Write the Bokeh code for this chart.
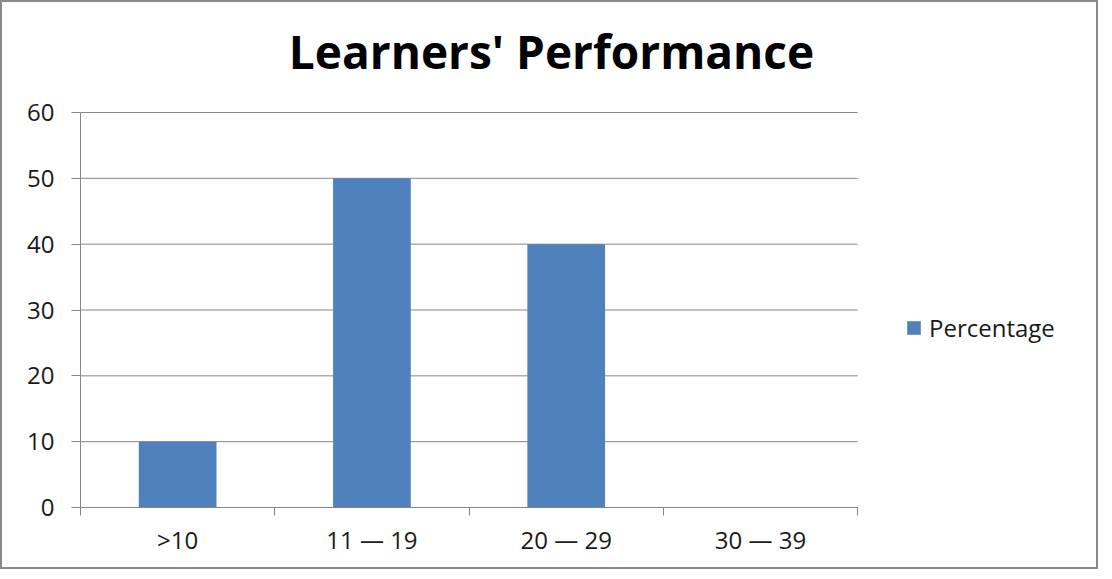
from bokeh.plotting import figure
from bokeh.models import (ColumnDataSource, FixedTicker, Range1d, Legend, LegendItem, Label)
from bokeh.embed import file_html
from bokeh.resources import INLINE

categories = [">10", "11 \u2014 19", "20 \u2014 29", "30 \u2014 39"]
percentage = [10, 50, 40, 0]
y_ticks = [0, 10, 20, 30, 40, 50, 60]
title_text = "Learners' Performance"

n = len(categories)
y_max = y_ticks[-1]
xs = [i + 0.5 for i in range(n)]
src = ColumnDataSource(dict(x=xs, top=percentage, cat=categories))
grid_src = ColumnDataSource(dict(x0=[0] * len(y_ticks), x1=[n] * len(y_ticks), y=y_ticks))

FONT = "Open Sans"
GRAY = "#868686"
TXT = "#1a1a1a"

W, H = 1098, 569
BL, BB = 78, 64          # left / bottom borders (px)
PLOT_TOP = 110           # px from canvas top where the axis top sits
frame_h = H - BB
# frame extends to the canvas top and right so title and legend are not clipped
p = figure(width=W, height=H, output_backend="svg", toolbar_location=None,
           x_range=Range1d(0, n * 1.3125), y_range=Range1d(0, y_max * frame_h / (frame_h - PLOT_TOP)),
           min_border_left=BL, min_border_right=0, min_border_top=0, min_border_bottom=BB)
p.styles = {"border": "2px solid #8a8a8a"}
p.outline_line_color = None
p.background_fill_color = "white"
p.border_fill_color = "white"

# horizontal grid lines across the category area only
p.segment(x0="x0", x1="x1", y0="y", y1="y", source=grid_src, line_color=GRAY, line_width=1)

r = p.vbar(x="x", top="top", width=0.4, bottom=0, source=src, fill_color="#4F81BD", line_color=None)

title = Label(text=title_text, x=471, y=frame_h - 48, x_units="screen", y_units="screen",
              text_align="center", text_baseline="middle", text_font=FONT,
              text_font_size="46px", text_font_style="bold", text_color="black")
p.add_layout(title)

# y axis
p.yaxis.ticker = FixedTicker(ticks=y_ticks)
p.yaxis.bounds = (0, y_max)
p.yaxis.axis_line_color = GRAY
p.yaxis.major_tick_line_color = GRAY
p.yaxis.major_tick_out = 9
p.yaxis.major_tick_in = 0
p.yaxis.minor_tick_line_color = None
p.yaxis.major_label_standoff = 17
p.yaxis.major_label_text_font = FONT
p.yaxis.major_label_text_font_size = "24px"
p.yaxis.major_label_text_color = TXT

# x axis: boundary ticks as minor ticks, labels at centers
p.xaxis.ticker = FixedTicker(ticks=xs, minor_ticks=list(range(n + 1)))
p.xaxis.bounds = (0, n)
p.xaxis.major_label_overrides = {x: c for x, c in zip(xs, categories)}
p.xaxis.axis_line_color = GRAY
p.xaxis.major_tick_line_color = None
p.xaxis.minor_tick_line_color = GRAY
p.xaxis.minor_tick_out = 8
p.xaxis.minor_tick_in = 0
p.xaxis.major_tick_out = 8
p.xaxis.major_label_standoff = 7
p.xaxis.major_label_text_font = FONT
p.xaxis.major_label_text_font_size = "24px"
p.xaxis.major_label_text_color = TXT

p.xgrid.grid_line_color = None
p.ygrid.grid_line_color = None

legend = Legend(items=[LegendItem(label="Percentage", renderers=[r])],
                location=(825, 163), glyph_width=17, glyph_height=17, label_standoff=7,
                padding=0, margin=0, border_line_color=None, background_fill_alpha=0,
                label_text_font=FONT, label_text_font_size="24px", label_text_color=TXT)
p.add_layout(legend, "center")

open("out.html", "w").write(file_html(p, INLINE))
